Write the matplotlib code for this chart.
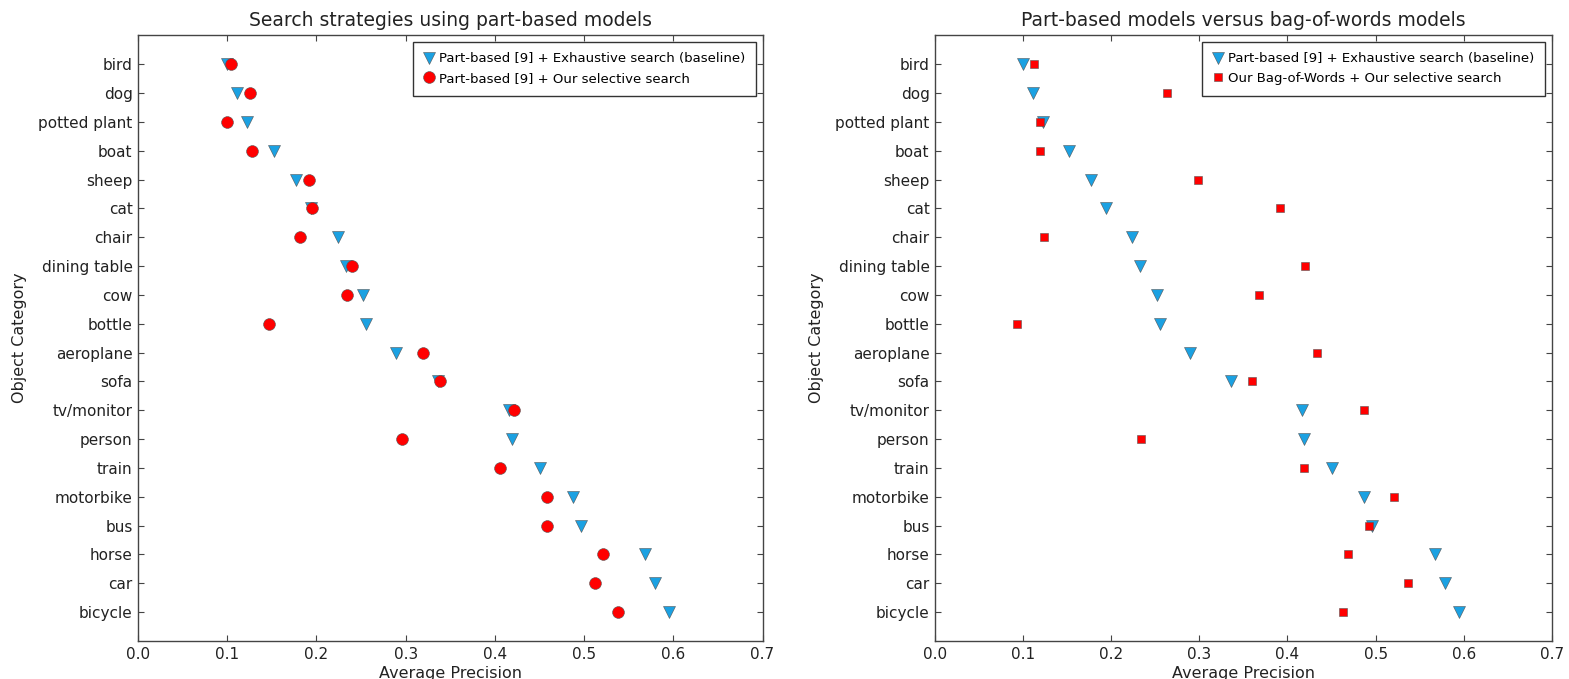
import numpy as np
import matplotlib
matplotlib.use("Agg")
import matplotlib.pyplot as plt

# categories listed top to bottom as in the figure
categories = ["bird", "dog", "potted plant", "boat", "sheep", "cat", "chair",
              "dining table", "cow", "bottle", "aeroplane", "sofa",
              "tv/monitor", "person", "train", "motorbike", "bus", "horse",
              "car", "bicycle"]

baseline_ap = [0.100, 0.111, 0.122, 0.152, 0.177, 0.194, 0.224, 0.233, 0.252,
               0.255, 0.289, 0.336, 0.416, 0.419, 0.451, 0.487, 0.496, 0.568,
               0.579, 0.595]
selective_ap = [0.104, 0.126, 0.100, 0.128, 0.192, 0.195, 0.182, 0.240, 0.234,
                0.147, 0.319, 0.339, 0.421, 0.296, 0.406, 0.458, 0.458, 0.521,
                0.512, 0.538]
bow_ap = [0.112, 0.263, 0.119, 0.119, 0.298, 0.392, 0.124, 0.420, 0.368,
          0.093, 0.433, 0.360, 0.487, 0.234, 0.419, 0.521, 0.493, 0.469,
          0.537, 0.463]

xticks = [0.0, 0.1, 0.2, 0.3, 0.4, 0.5, 0.6, 0.7]

BLUE = "#1BA1E2"
RED = "#FF0000"
EDGE = "#555555"
INK = "#222222"

plt.rcParams["font.family"] = "DejaVu Sans"
plt.rcParams["xtick.direction"] = "in"
plt.rcParams["ytick.direction"] = "in"

fig = plt.figure(figsize=(15.69, 6.79), dpi=100)
ax1 = fig.add_axes([0.088, 0.056, 0.398, 0.892])
ax2 = fig.add_axes([0.596, 0.056, 0.393, 0.892])

ypos = np.arange(len(categories))[::-1]


def style_axes(ax, title):
    ax.set_xlim(0, 0.7)
    ax.set_ylim(-1, len(categories))
    ax.set_xticks(xticks)
    ax.set_xticklabels(["%.1f" % t for t in xticks], fontsize=11)
    ax.set_yticks(ypos)
    ax.set_yticklabels(categories, fontsize=11)
    ax.tick_params(top=True, right=True, length=4, color="#444444",
                   labelcolor=INK, pad=4)
    for s in ax.spines.values():
        s.set_color("#444444")
        s.set_linewidth(1.0)
    ax.set_title(title, fontsize=13.5, color=INK, pad=7)
    ax.set_xlabel("Average Precision", fontsize=11.5, color=INK, labelpad=3)
    ax.set_ylabel("Object Category", fontsize=11.5, color=INK, labelpad=8)


def add_legend(ax):
    ax.legend(loc="upper right", fontsize=9.5, numpoints=1, fancybox=False,
              edgecolor="#333333", framealpha=1, handletextpad=0.4,
              labelspacing=0.5, borderpad=0.8, borderaxespad=0.5,
              handlelength=0.8)


ax1.plot(baseline_ap, ypos, linestyle="none", marker="v", markersize=8.5,
         color=BLUE, markeredgecolor=EDGE, markeredgewidth=0.4,
         label="Part-based [9] + Exhaustive search (baseline)")
ax1.plot(selective_ap, ypos, linestyle="none", marker="o", markersize=8.5,
         color=RED, markeredgecolor=EDGE, markeredgewidth=0.4,
         label="Part-based [9] + Our selective search")
style_axes(ax1, "Search strategies using part-based models")
add_legend(ax1)

ax2.plot(baseline_ap, ypos, linestyle="none", marker="v", markersize=8.5,
         color=BLUE, markeredgecolor=EDGE, markeredgewidth=0.4,
         label="Part-based [9] + Exhaustive search (baseline)")
ax2.plot(bow_ap, ypos, linestyle="none", marker="s", markersize=6,
         color=RED, markeredgecolor=EDGE, markeredgewidth=0.4,
         label="Our Bag-of-Words + Our selective search")
style_axes(ax2, "Part-based models versus bag-of-words models")
add_legend(ax2)

fig.savefig("out.png", dpi=100, facecolor="white")
